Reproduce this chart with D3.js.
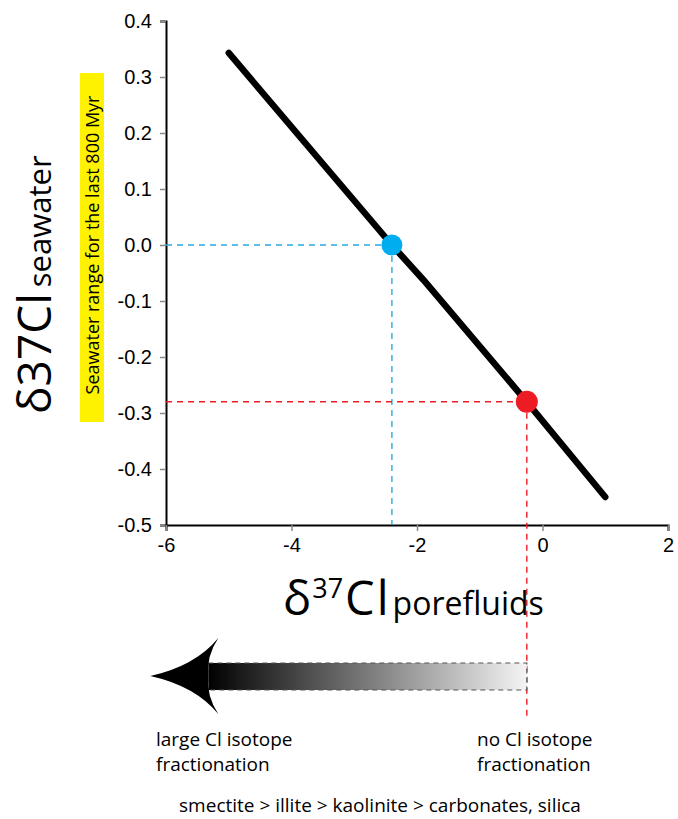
<!DOCTYPE html>
<html>
<head>
<meta charset="utf-8">
<script src="https://cdn.jsdelivr.net/npm/d3@7"></script>
<style>
  body { margin: 0; background: #fff; }
  svg { display: block; }
  .lbl { font-family: "Open Sans", sans-serif; fill: #000; }
</style>
</head>
<body>
<svg width="678" height="819"></svg>
<script>
// data
const xTicks = [-6, -4, -2, 0, 2];
const yTicks = [0.4, 0.3, 0.2, 0.1, 0.0, -0.1, -0.2, -0.3, -0.4, -0.5];
const lineX = [-5, -2.4, -1.9, -0.25, 1];
const lineY = [0.343, 0, -0.062, -0.28, -0.45];
const pointX = [-2.4, -0.25];
const pointY = [0, -0.28];
const pointColor = ['#00aeef', '#ed1c24'];
const dashColor = ['#29abe2', '#ed1c24'];
const arrowTipX = -6.25;

const svg = d3.select('svg');
const x = d3.scaleLinear().domain([-6, 2]).range([166, 668]);
const y = d3.scaleLinear().domain([-0.5, 0.4]).range([525, 21]);
const fmtMinus = s => s.replace('\u2212', '-');

// yellow band + its label
svg.append('rect')
  .attr('x', 80).attr('y', 73).attr('width', 24).attr('height', 349)
  .attr('fill', '#fff200');
svg.append('text')
  .attr('class', 'lbl')
  .attr('transform', 'translate(99,245) rotate(-90)')
  .attr('text-anchor', 'middle')
  .attr('font-size', 18)
  .text('Seawater range for the last 800 Myr');

// axes
const yAxis = svg.append('g')
  .attr('transform', `translate(${x(-6)},0)`)
  .call(d3.axisLeft(y).tickValues(yTicks).tickSize(6).tickPadding(8)
    .tickFormat(d => fmtMinus(d3.format('.1f')(d))));
const xAxis = svg.append('g')
  .attr('transform', `translate(0,${y(-0.5)})`)
  .call(d3.axisBottom(x).tickValues(xTicks).tickSize(6).tickPadding(7)
    .tickFormat(d => fmtMinus(d3.format('d')(d))));
[yAxis, xAxis].forEach(a => {
  a.attr('font-family', '"Liberation Sans", Arial, sans-serif').attr('font-size', 20);
  a.select('.domain').attr('stroke', '#000').attr('stroke-width', 2);
  a.selectAll('.tick line').attr('stroke', '#888').attr('stroke-width', 1.5);
  a.selectAll('.tick text').attr('fill', '#000');
});

// dashed guides
pointX.forEach((px, i) => {
  svg.append('line')
    .attr('x1', x(-6)).attr('x2', x(px)).attr('y1', y(pointY[i])).attr('y2', y(pointY[i]))
    .attr('stroke', dashColor[i]).attr('stroke-width', 1.4).attr('stroke-dasharray', '6,5');
  svg.append('line')
    .attr('x1', x(px)).attr('x2', x(px)).attr('y1', y(pointY[i]))
    .attr('y2', i === 0 ? y(-0.5) : y(-0.5) + 192)
    .attr('stroke', dashColor[i]).attr('stroke-width', 1.4).attr('stroke-dasharray', '6,5');
});

// main line
const pts = lineX.map((v, i) => [v, lineY[i]]);
svg.append('path')
  .datum(pts)
  .attr('d', d3.line().x(d => x(d[0])).y(d => y(d[1])))
  .attr('fill', 'none').attr('stroke', '#000').attr('stroke-width', 6.5)
  .attr('stroke-linecap', 'round').attr('stroke-linejoin', 'round');

// points
svg.selectAll('circle.pt')
  .data(pointX)
  .enter().append('circle')
  .attr('class', 'pt')
  .attr('cx', d => x(d)).attr('cy', (d, i) => y(pointY[i]))
  .attr('r', (d, i) => i === 0 ? 10.5 : 11)
  .attr('fill', (d, i) => pointColor[i]);

// axis titles
const yt = svg.append('text')
  .attr('class', 'lbl')
  .attr('transform', 'translate(51,414) rotate(-90)');
yt.append('tspan').attr('font-size', 46).text('δ37Cl');
yt.append('tspan').attr('font-size', 31).attr('dx', 6).text('seawater');

const xt = svg.append('text')
  .attr('class', 'lbl')
  .attr('x', 283).attr('y', 615);
xt.append('tspan').attr('font-size', 47).attr('letter-spacing', 1).text('δ');
xt.append('tspan').attr('font-size', 27).attr('dy', -17).text('37');
xt.append('tspan').attr('font-size', 47).attr('dy', 17).attr('dx', 2).attr('letter-spacing', 2).text('Cl');
xt.append('tspan').attr('font-size', 32).attr('dx', 2).text('porefluids');

// fractionation arrow
const defs = svg.append('defs');
const grad = defs.append('linearGradient').attr('id', 'fade')
  .attr('x1', '0%').attr('x2', '100%').attr('y1', '0%').attr('y2', '0%');
grad.append('stop').attr('offset', '0%').attr('stop-color', '#000');
grad.append('stop').attr('offset', '10%').attr('stop-color', '#1a1a1a');
grad.append('stop').attr('offset', '100%').attr('stop-color', '#f4f4f4');

const bodyL = x(arrowTipX) + 58, bodyR = x(pointX[1]);
const ay = 676;
svg.append('rect')
  .attr('x', bodyL).attr('y', ay - 13).attr('width', bodyR - bodyL).attr('height', 27)
  .attr('fill', 'url(#fade)')
  .attr('stroke', '#555').attr('stroke-width', 1.2).attr('stroke-dasharray', '5,4');
const tip = x(arrowTipX);
svg.append('path')
  .attr('d', `M${tip},${ay} Q${tip + 45},${ay - 10} ${tip + 68},${ay - 38}
    Q${tip + 56},${ay - 20} ${tip + 58},${ay} Q${tip + 56},${ay + 20} ${tip + 68},${ay + 38}
    Q${tip + 45},${ay + 10} ${tip},${ay} Z`)
  .attr('fill', '#000');

// notes
const notes = [
  { x: 156, y: 746, t: 'large Cl isotope' },
  { x: 156, y: 771, t: 'fractionation' },
  { x: 477, y: 746, t: 'no Cl isotope' },
  { x: 477, y: 771, t: 'fractionation' }
];
svg.selectAll('text.note')
  .data(notes)
  .enter().append('text')
  .attr('class', 'lbl note')
  .attr('x', d => d.x).attr('y', d => d.y)
  .attr('font-size', 19)
  .text(d => d.t);
svg.append('text')
  .attr('class', 'lbl')
  .attr('x', 380).attr('y', 812)
  .attr('text-anchor', 'middle')
  .attr('font-size', 19)
  .text('smectite > illite > kaolinite > carbonates, silica');
</script>
</body>
</html>
